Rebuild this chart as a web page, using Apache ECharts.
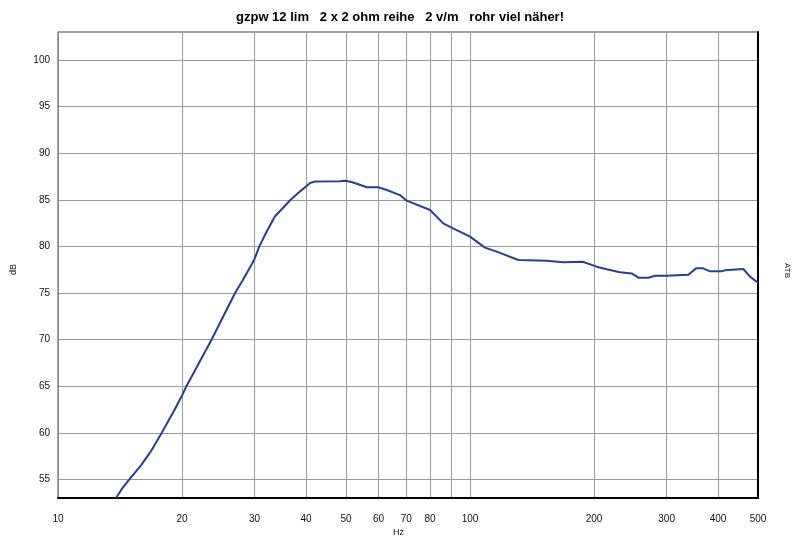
<!DOCTYPE html>
<html>
<head>
<meta charset="utf-8">
<script src="https://cdn.jsdelivr.net/npm/echarts@6/dist/echarts.min.js"></script>
<style>html,body{margin:0;padding:0;background:#fff}#c{width:800px;height:547px}</style>
</head>
<body>
<div id="c"></div>
<script>
var titleText = 'gzpw 12 lim   2 x 2 ohm reihe   2 v/m   rohr viel näher!';
var freqHz = [13.83, 14.3, 14.9, 15.9, 16.8, 17.86, 19.2, 20.0, 20.5, 23.6, 26.9, 28.1, 29.9, 30.8, 32.1, 33.6, 36.7, 38.7, 40.9, 42.0, 48.4, 49.7, 51.6, 56.2, 59.9, 62.8, 67.6, 70.2, 80, 86.1, 89.4, 100, 108.7, 116.1, 131, 153.5, 168.5, 178.1, 187.7, 203, 214.7, 231.2, 246.9, 256.2, 270.9, 281.2, 300, 338.8, 353.6, 368.4, 382.4, 408.2, 415.8, 460.7, 478.2, 500];
var levelDb = [53, 54, 55, 56.5, 58, 60, 62.5, 64, 65, 70, 75, 76.4, 78.5, 80, 81.6, 83.2, 85, 85.9, 86.8, 86.95, 86.98, 87.05, 86.9, 86.34, 86.34, 86.05, 85.5, 84.9, 83.9, 82.47, 82.1, 81.04, 79.86, 79.43, 78.54, 78.46, 78.29, 78.32, 78.35, 77.82, 77.54, 77.22, 77.1, 76.64, 76.64, 76.85, 76.85, 76.96, 77.64, 77.64, 77.32, 77.32, 77.43, 77.57, 76.75, 76.1];
var xGridHz = [20, 30, 40, 50, 60, 70, 80, 90, 100, 200, 300, 400];
var xLabelHz = [10, 20, 30, 40, 50, 60, 70, 80, 100, 200, 300, 400, 500];
var yTicks = [55, 60, 65, 70, 75, 80, 85, 90, 95, 100];
var xMinHz = 10, xMaxHz = 500, yMin = 53, yMax = 103;

var lg = function (v) { return Math.log10(v); };
var seriesData = freqHz.map(function (f, i) { return [lg(f), levelDb[i]]; });

var chart = echarts.init(document.getElementById('c'), null, {renderer: 'canvas'});
var font = 'Liberation Sans, Arial, sans-serif';
chart.setOption({
  animation: false,
  backgroundColor: '#ffffff',
  title: {
    text: titleText, left: 'center', top: 6,
    textStyle: {fontFamily: font, fontSize: 13, fontWeight: 'bold', color: '#000'}
  },
  grid: {left: 58, right: 42, top: 32, bottom: 49, show: true, borderColor: '#444', borderWidth: 1},
  xAxis: {
    type: 'value', min: lg(xMinHz), max: lg(xMaxHz),
    axisLine: {show: true, onZero: false, lineStyle: {color: '#000', width: 2}},
    axisTick: {show: false, customValues: xGridHz.map(lg)},
    splitLine: {show: true, lineStyle: {color: '#9a9a9a', width: 1}},
    axisLabel: {
      customValues: xLabelHz.map(lg), margin: 16,
      fontFamily: font, fontSize: 10, color: '#111',
      formatter: function (v) { return String(Math.round(Math.pow(10, v))); }
    }
  },
  yAxis: [{
    type: 'value', min: yMin, max: yMax,
    axisLine: {show: true, lineStyle: {color: '#888', width: 1}},
    axisTick: {show: false, customValues: yTicks},
    splitLine: {show: true, lineStyle: {color: '#9a9a9a', width: 1}},
    axisLabel: {customValues: yTicks, margin: 8, fontFamily: font, fontSize: 10, color: '#111'}
  }, {
    type: 'value', min: yMin, max: yMax, position: 'right',
    axisLine: {show: true, lineStyle: {color: '#000', width: 2}},
    axisTick: {show: false}, axisLabel: {show: false}, splitLine: {show: false}
  }],
  graphic: [
    {type: 'text', left: 393, top: 528, style: {text: 'Hz', font: '9px ' + font, fill: '#111'}},
    {type: 'text', x: 9, y: 275, rotation: Math.PI / 2, style: {text: 'dB', font: '9px ' + font, fill: '#111'}},
    {type: 'text', x: 791, y: 263, rotation: -Math.PI / 2, style: {text: 'ATB', font: '8px ' + font, fill: '#111'}}
  ],
  series: [{
    type: 'line', data: seriesData, showSymbol: false, smooth: false,
    clip: true,
    lineStyle: {color: '#2b3f8e', width: 2}
  }]
});
</script>
</body>
</html>
